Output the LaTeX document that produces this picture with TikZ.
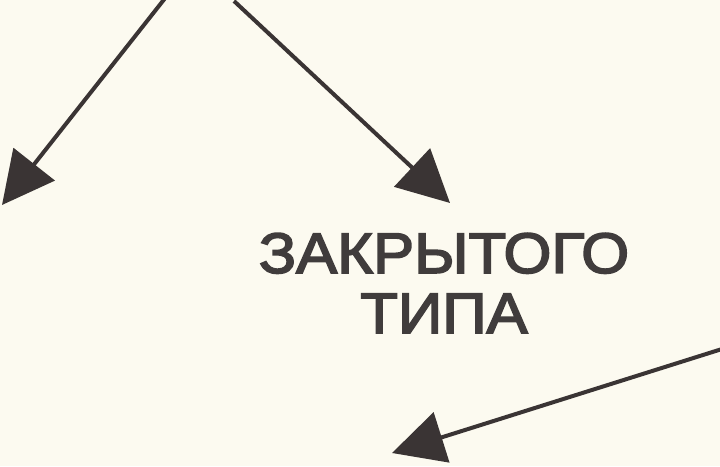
\documentclass[tikz,border=0pt]{standalone}
\usepackage{fontspec}
\setmainfont{Liberation Sans}
\newfontfamily\lblfont[FakeBold=3,FakeStretch=1.08]{Liberation Sans}
\usetikzlibrary{arrows.meta}
\definecolor{paper}{HTML}{FCFAF0}
\definecolor{ink}{HTML}{3A3434}
\definecolor{txt}{HTML}{403C3C}
\tikzset{
  arr/.style={draw=ink, line width=4pt, -{Triangle[length=52pt,width=52pt]}},
  lbl/.style={text=txt, font=\lblfont\fontsize{57}{60}\selectfont, align=center, inner sep=0pt}
}
\begin{document}
\begin{tikzpicture}[x=1pt,y=-1pt]
\fill[paper] (0,0) rectangle (720,466);
\useasboundingbox (0,0) rectangle (720,466);
\coordinate (s1) at (166,-3);
\coordinate (t1) at (2,205);
\coordinate (s2) at (234,1);
\coordinate (t2) at (450,203);
\coordinate (s3) at (722,349);
\coordinate (t3) at (392,453);
\node[lbl] (zt) at (444,283) {ЗАКРЫТОГО\\ТИПА};
\draw[arr] (s1) -- (t1);
\draw[arr] (s2) -- (t2);
\draw[arr] (s3) -- (t3);
\end{tikzpicture}
\end{document}
